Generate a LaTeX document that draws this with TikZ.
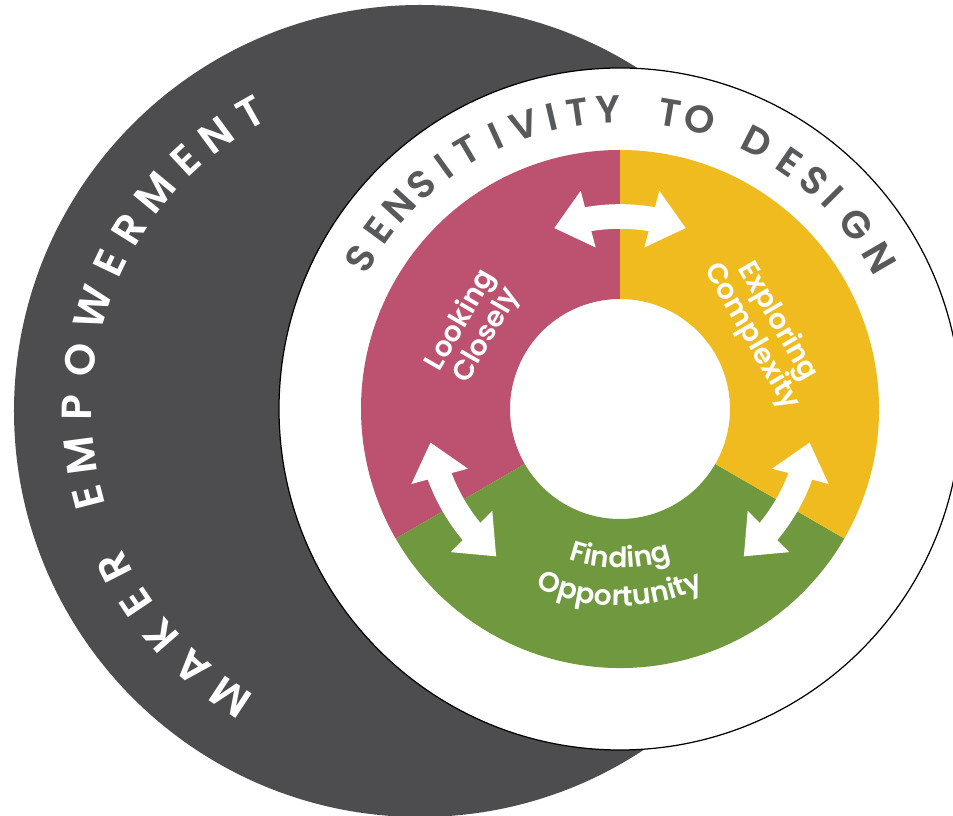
\documentclass[tikz,border=0pt]{standalone}
\usepackage{fontspec}
\setmainfont{Poppins}[BoldFont={Poppins SemiBold}]
\usetikzlibrary{arrows.meta,bending,decorations.text}
\definecolor{makergray}{RGB}{77,77,79}
\definecolor{designgray}{RGB}{88,89,91}
\definecolor{lookpink}{RGB}{188,81,112}
\definecolor{explyellow}{RGB}{240,187,30}
\definecolor{findgreen}{RGB}{111,152,63}
\tikzset{
  swap arrow/.style={white, line width=14pt,
    {Triangle[width=32pt,length=20pt]}-{Triangle[width=32pt,length=20pt]}},
  ring label/.style={text=white, align=center, inner sep=0pt,
    font=\fontsize{16}{17}\selectfont\bfseries},
  maker letter/.style={text=white, inner sep=0pt,
    font=\fontsize{24}{24}\selectfont\bfseries},
  design letter/.style={text=designgray, inner sep=0pt,
    font=\fontsize{22}{22}\selectfont\bfseries}
}
\begin{document}
\begin{tikzpicture}[line join=round]
  \newdimen\Rout
  \Rout=5.18cm
  \newdimen\Rin
  \Rin=2.2cm
  \useasboundingbox (-12.4,-8.14) rectangle (6.66,8.18);
  \clip (-12.4,-8.14) rectangle (6.66,8.18);
  \fill[makergray] (-4.0,-0.04) circle (8.12);
  \begin{scope}[shift={(-4.0,-0.04)}]
    \foreach \a/\l [count=\i] in
    { 236.5/M, 228.5/A, 221/K, 214/E, 207/R,
      194.5/E, 187.5/M, 179.5/P, 171.5/O, 162.5/W,
      154.5/E, 148/R, 140.5/M, 133/E, 126.5/N, 119.5/T
    }
    \node[maker letter, rotate=\a-90] (maker\i) at (\a:6.86) {\l};
  \end{scope}
  \filldraw[fill=white, draw=black, line width=0.7pt] (0,0) circle (6.82);
  \foreach \a/\l [count=\i] in
  { 150/S, 143.5/E, 137.5/N, 131.5/S, 126/I, 120.5/T,
    114.5/I, 108.7/V, 103.2/I, 98.2/T, 92.3/Y,
    80.4/T, 74.5/O,
    62.8/D, 55.5/E, 49.6/S, 44.9/I, 37.9/G, 30.2/N
  }
  \node[design letter, rotate=\a-90] (design\i) at (\a:6.0) {\l};
  \foreach \s/\e/\c in {90/210/lookpink, 210/330/findgreen, -30/90/explyellow}
    \fill[\c] (\s:\Rout) arc[start angle=\s, end angle=\e, radius=\Rout]
      -- (\e:\Rin) arc[start angle=\e, end angle=\s, radius=\Rin] -- cycle;
  \foreach \a in {90,210,330}
    \draw[swap arrow] (\a+20:3.85) arc[start angle=\a+20, end angle=\a-20, radius=3.85];
  \node[ring label, rotate=60] (looking) at (151:3.34) {Looking\\Closely};
  \node[ring label, rotate=-60] (exploring) at (29:3.3) {Exploring\\Complexity};
  \path[decorate, decoration={text along path, text align=center,
    text={|\fontsize{16}{16}\selectfont\bfseries\color{white}|Finding}}]
    (240:3.18) arc[start angle=240, end angle=300, radius=3.18];
  \path[decorate, decoration={text along path, text align=center,
    text={|\fontsize{16}{16}\selectfont\bfseries\color{white}|Opportunity}}]
    (225:3.94) arc[start angle=225, end angle=315, radius=3.94];
\end{tikzpicture}
\end{document}
